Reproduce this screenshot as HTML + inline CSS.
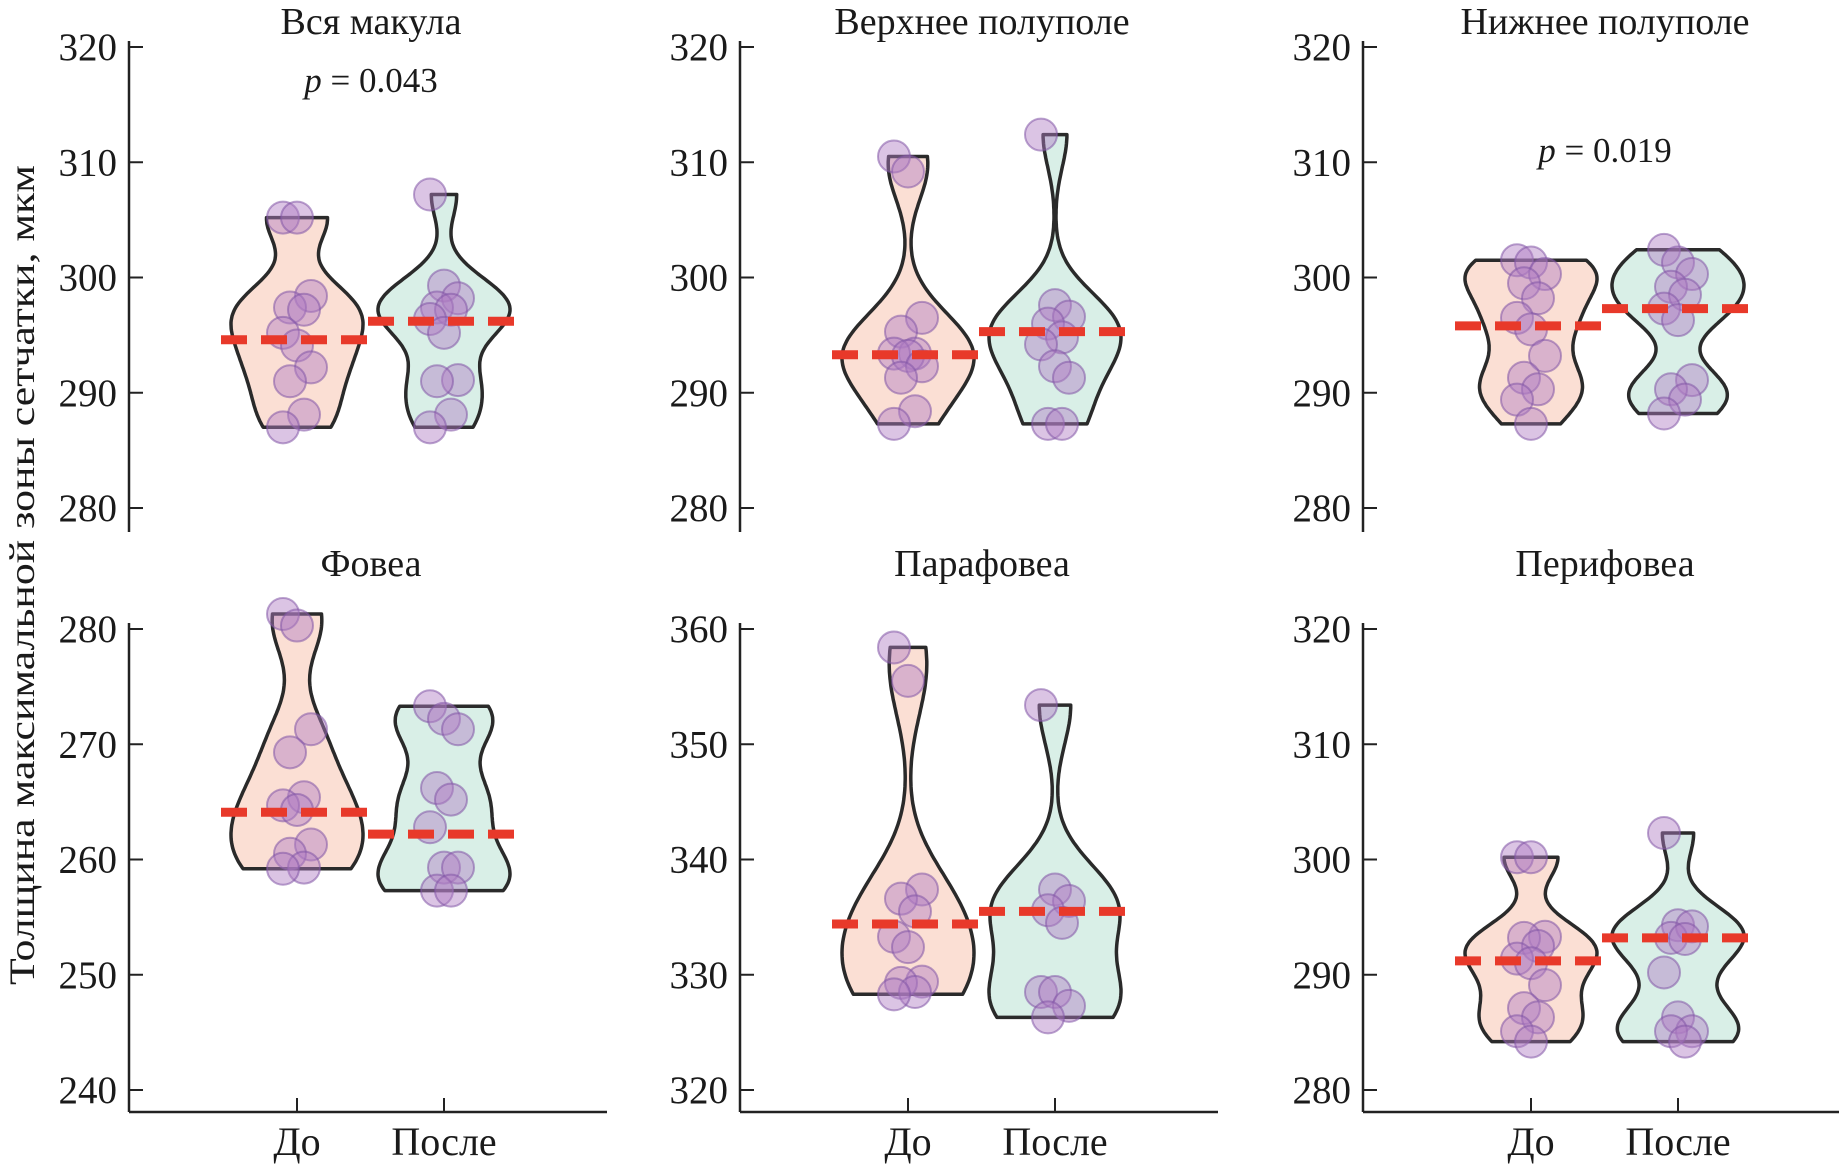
<!DOCTYPE html>
<html><head><meta charset="utf-8"><style>
html,body{margin:0;padding:0;background:#fff;}
svg{display:block;}
text{font-family:"Liberation Serif","Times New Roman","DejaVu Serif",serif;fill:#1a1a1a;}
</style></head><body>
<svg id="chart" width="1839" height="1166" viewBox="0 0 1839 1166" xmlns="http://www.w3.org/2000/svg" font-family="Liberation Serif, Times New Roman, serif">
<text font-family="Liberation Serif, serif" x="0" y="0" transform="translate(34,575) rotate(-90)" text-anchor="middle" font-size="36" textLength="820" lengthAdjust="spacingAndGlyphs">Толщина максимальной зоны сетчатки, мкм</text>
</svg>
<script>
// ---- data ----
const panelTitles = ["Вся макула","Верхнее полуполе","Нижнее полуполе","Фовеа","Парафовеа","Перифовеа"];
const categories = ["До","После"];
const yTickLabels = [[320,310,300,290,280],[320,310,300,290,280],[320,310,300,290,280],[280,270,260,250,240],[360,350,340,330,320],[320,310,300,290,280]];
const pValues = ["0.043", null, "0.019", null, null, null];
const beforeMacula = [305.2,305.2,298.4,297.4,297.2,295.2,294.1,292.2,291.0,288.1,287.0];
const afterMacula = [307.2,299.3,298.2,297.4,297.2,296.4,295.2,291.1,291.0,288.1,287.0];
const beforeUpper = [310.5,309.2,296.5,295.3,293.4,293.4,293.2,292.3,291.3,288.4,287.3];
const afterUpper = [312.4,297.6,296.6,296.0,294.8,294.2,292.3,291.3,287.3,287.3];
const beforeLower = [301.5,301.3,300.3,299.5,298.2,296.5,295.5,293.2,291.3,290.3,289.4,287.3];
const afterLower = [302.4,301.3,300.3,299.2,298.5,297.3,296.3,291.1,290.3,289.4,288.2];
const beforeFovea = [281.3,280.3,271.3,269.3,265.4,264.7,264.3,261.3,260.5,259.3,259.2];
const afterFovea = [273.3,272.2,271.3,266.2,265.2,262.8,259.3,259.3,257.3,257.3];
const beforePara = [358.4,355.5,337.4,336.6,335.5,333.3,332.4,329.4,329.3,328.5,328.3];
const afterPara = [353.4,337.4,336.4,335.6,334.5,328.5,328.5,327.3,326.3];
const beforePeri = [300.2,300.2,293.3,293.2,292.5,291.4,291.0,289.1,287.1,286.3,285.1,284.2];
const afterPeri = [302.3,294.3,294.2,293.2,293.1,290.2,286.3,285.1,285.1,284.2];
const meanBefore = [294.6,293.3,295.8,264.1,334.4,291.2];
const meanAfter = [296.2,295.3,297.3,262.2,335.5,293.2];
const seriesBefore = [beforeMacula,beforeUpper,beforeLower,beforeFovea,beforePara,beforePeri];
const seriesAfter = [afterMacula,afterUpper,afterLower,afterFovea,afterPara,afterPeri];

// ---- layout ----
const NS = "http://www.w3.org/2000/svg";
const svg = document.getElementById("chart");
const axisXs = [129,740,1363];
const rowTop = [47,629], rowBot = [508,1090];
const catOff = [168,315];
const fills = ["#fbdfd4","#d9efe7"];
const FONT = "Liberation Serif, Times New Roman, serif";
function mk(tag, attrs, parent){const e=document.createElementNS(NS,tag);for(const k in attrs)e.setAttribute(k,attrs[k]);(parent||svg).appendChild(e);return e;}

function kde(data, bw, v){let s=0;for(const d of data){const z=(v-d)/bw;s+=Math.exp(-0.5*z*z);}return s;}
function std(a){const m=a.reduce((x,y)=>x+y,0)/a.length;return Math.sqrt(a.reduce((x,y)=>x+(y-m)*(y-m),0)/(a.length-1));}

for(let p=0;p<6;p++){
  const r = p<3?0:1, c = p%3;
  const ax = axisXs[c];
  const ticks = yTickLabels[p];
  const vTop = ticks[0], vBot = ticks[ticks.length-1];
  const y0 = rowTop[r], y1 = rowBot[r];
  const yScale = v => y0 + (vTop - v)*(y1-y0)/(vTop-vBot);
  const xCat = i => ax + catOff[i];
  const g = mk("g",{});
  
  

  const axisBottom = r===0 ? y1+24 : 1112;
  const yAxis = mk("line",{x1:ax,x2:ax,y1:y0-6,y2:axisBottom,stroke:"#222","stroke-width":2.5},g);
  
  
  ticks.forEach(t=>{
    const y=yScale(t);
    const tl=mk("line",{x1:ax,x2:ax+14,y1:y,y2:y,stroke:"#222","stroke-width":2},g);
    
    
    const tx=mk("text",{x:ax-12,y:y+13,"text-anchor":"end","font-size":39,"font-family":FONT},g);
    tx.textContent=t;
    
    
  });
  if(r===1){
    const xa=mk("line",{x1:ax,x2:ax+478,y1:1112,y2:1112,stroke:"#222","stroke-width":2.5},g);
    
    
    categories.forEach((cat,i)=>{
      const xt=mk("line",{x1:xCat(i),x2:xCat(i),y1:1112,y2:1098,stroke:"#222","stroke-width":2},g);
      
      
      const lb=mk("text",{x:xCat(i),y:1155,"text-anchor":"middle","font-size":40,"font-family":FONT},g);
      lb.textContent=cat;
      
      
    });
  }
  const tt=mk("text",{x:ax+242,y:r===0?34:576,"text-anchor":"middle","font-size":38,"font-family":FONT},g);
  tt.textContent=panelTitles[p];
  
  
  if(pValues[p]){
    const pt=mk("text",{x:ax+242,y:p===0?92:162,"text-anchor":"middle","font-size":35,"font-family":FONT},g);
    pt.innerHTML='<tspan font-style="italic">p</tspan> = '+pValues[p];
    
    
  }
  [seriesBefore[p],seriesAfter[p]].forEach((data,i)=>{
    const mn=Math.min(...data), mx=Math.max(...data);
    const bw=1.06*std(data)*Math.pow(data.length,-0.2)*0.6;
    const N=100, vals=[];
    let dmax=0;
    for(let k=0;k<=N;k++){const v=mn+(mx-mn)*k/N;const d=kde(data,bw,v);vals.push([v,d]);if(d>dmax)dmax=d;}
    const hw=66, cx=xCat(i);
    let dstr="";
    vals.forEach(([v,d],k)=>{dstr+=(k?"L":"M")+(cx+d/dmax*hw).toFixed(1)+","+yScale(v).toFixed(1);});
    for(let k=N;k>=0;k--){const [v,d]=vals[k];dstr+="L"+(cx-d/dmax*hw).toFixed(1)+","+yScale(v).toFixed(1);}
    dstr+="Z";
    const vp=mk("path",{d:dstr,fill:fills[i],stroke:"#2a2a2a","stroke-width":3.5,"stroke-linejoin":"round"},g);
    
    
  });
  [seriesBefore[p],seriesAfter[p]].forEach((data,i)=>{
    data.forEach((v,k)=>{
      const jit=((k*7)%5-2)*7;
      const cc=mk("circle",{cx:xCat(i)+jit,cy:yScale(v),r:16,fill:"rgba(175,125,195,0.45)",stroke:"rgba(130,85,165,0.55)","stroke-width":2},g);
      
      
    });
  });
  [meanBefore[p],meanAfter[p]].forEach((m,i)=>{
    const y=yScale(m);
    const ml=mk("line",{x1:xCat(i)-76,x2:xCat(i)+76,y1:y,y2:y,stroke:"#e8392a","stroke-width":9,"stroke-dasharray":"26 14"},g);
    
    
  });
}
</script>
</body></html>
